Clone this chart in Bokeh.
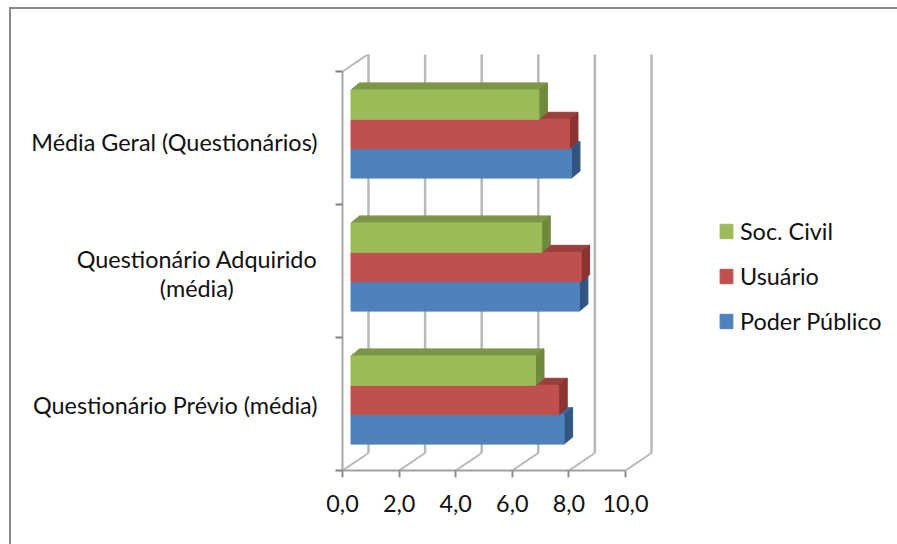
from bokeh.plotting import figure
from bokeh.embed import file_html
from bokeh.resources import INLINE
from bokeh.models import Range1d, FixedTicker, Legend, LegendItem, LinearAxis

NB = "\u00a0"
categories = ["Questionário Prévio (média)", "Questionário Adquirido\n(média)" + NB * 14, "Média Geral (Questionários)"]
series = ["Poder Público", "Usuário", "Soc. Civil"]
poder_publico = [7.53, 8.07, 7.79]
usuario = [7.34, 8.13, 7.72]
soc_civil = [6.52, 6.74, 6.64]
x_ticks = [0, 2, 4, 6, 8, 10]
x_tick_labels = ["0,0", "2,0", "4,0", "6,0", "8,0", "10,0"]

front = {"Poder Público": "#4F81BD", "Usuário": "#C0504D", "Soc. Civil": "#9BBB59"}
top_c = {"Poder Público": "#3F6797", "Usuário": "#9A403E", "Soc. Civil": "#7C9647"}
side_c = {"Poder Público": "#2F5580", "Usuário": "#8A3331", "Soc. Civil": "#6F8A3C"}
values = {"Poder Público": poder_publico, "Usuário": usuario, "Soc. Civil": soc_civil}

PX = 28.3   # px per value unit
PY = 133.0  # px per category
OX, OY = 11, 9  # page position of the canvas
W, H = 897 - OX + 2, 544 - OY + 2
FONT = "Lato"
FS = "23.4px"
FRAME_W = 311

p = figure(width=W, height=H, frame_width=FRAME_W, frame_height=416, output_backend="svg", toolbar_location=None,
           x_range=Range1d(0, FRAME_W / PX), y_range=Range1d(0, 416 / PY),
           x_axis_location=None, y_axis_location=None,
           min_border_left=342 - OX, min_border_right=0,
           min_border_top=54 - OY, min_border_bottom=544 - 470,
           outline_line_color=None, background_fill_color="white", border_fill_color="white",
           margin=(OY - 2, 0, 0, OX - 2),
           styles={"border-top": "2px solid #8A8A8A", "border-left": "2px solid #8A8A8A"})
p.grid.visible = False

# walls
dx_wall, dy_wall = 26 / PX, 17.5 / PY
GRID = "#B8B8B8"
p.multi_line([[t + dx_wall, t + dx_wall] for t in x_ticks], [[dy_wall, 3 + dy_wall] for t in x_ticks],
             line_color=GRID, line_width=2.5)
p.multi_line([[t, t + dx_wall] for t in x_ticks], [[0, dy_wall] for t in x_ticks], line_color=GRID, line_width=2)
p.multi_line([[0, dx_wall]], [[3, 3 + dy_wall]], line_color=GRID, line_width=2)

# bars
shift_x, shift_y = 8.5 / PX, 4 / PY
depth_x, depth_y = 8.5 / PX, 7 / PY
bar_h = 29.4 / PY
legend_r = {}
order = {"Poder Público": -1.5, "Usuário": -0.5, "Soc. Civil": 0.5}
for s in series:
    xs_t, ys_t, xs_s, ys_s, xs_f, ys_f = [], [], [], [], [], []
    for i, v in enumerate(values[s]):
        x0 = shift_x
        x1 = shift_x + v
        y0 = i + 0.5 + shift_y + order[s] * bar_h
        y1 = y0 + bar_h
        xs_f.append([x0, x1, x1, x0]); ys_f.append([y0, y0, y1, y1])
        xs_t.append([x0, x1, x1 + depth_x, x0 + depth_x]); ys_t.append([y1, y1, y1 + depth_y, y1 + depth_y])
        xs_s.append([x1, x1 + depth_x, x1 + depth_x, x1]); ys_s.append([y0, y0 + depth_y, y1 + depth_y, y1])
    p.patches(xs_t, ys_t, fill_color=top_c[s], line_color=top_c[s], line_width=1)
    p.patches(xs_s, ys_s, fill_color=side_c[s], line_color=side_c[s], line_width=1)
    legend_r[s] = p.patches(xs_f, ys_f, fill_color=front[s], line_color=front[s], line_width=1)

# axes
xa = LinearAxis(ticker=FixedTicker(ticks=x_ticks), bounds=(0, 10),
                major_label_overrides=dict(zip(x_ticks, x_tick_labels)),
                major_tick_out=7, major_tick_in=0, minor_tick_out=0, minor_tick_in=0,
                axis_line_color="#A0A0A0", axis_line_width=2, major_tick_line_color="#909090", major_tick_line_width=2,
                major_label_text_font=FONT, major_label_text_font_size=FS, major_label_text_color="#111111",
                major_label_standoff=17)
p.add_layout(xa, "below")
cat_pos = [0.49, 1.48, 2.47]
ya = LinearAxis(ticker=FixedTicker(ticks=cat_pos, minor_ticks=[0, 1, 2, 3]), bounds=(0, 3),
                major_label_overrides=dict(zip(cat_pos, categories)),
                major_tick_out=0, major_tick_in=0, minor_tick_out=7, minor_tick_in=0,
                axis_line_color="#A8A8A8", axis_line_width=2, minor_tick_line_color="#808080", minor_tick_line_width=2,
                major_label_text_font=FONT, major_label_text_font_size=FS, major_label_text_color="#111111",
                major_label_text_line_height=1.03,
                major_label_standoff=18)
p.add_layout(ya, "left")

legend = Legend(items=[LegendItem(label=s, renderers=[legend_r[s]]) for s in reversed(series)],
                location=(65, 134), orientation="vertical", glyph_width=16, glyph_height=18,
                label_height=30, label_standoff=6, spacing=15, padding=0, margin=0,
                border_line_color=None, background_fill_alpha=0,
                label_text_font=FONT, label_text_font_size=FS, label_text_color="#111111")
p.add_layout(legend, "right")

open("out.html", "w").write(file_html(p, INLINE))
